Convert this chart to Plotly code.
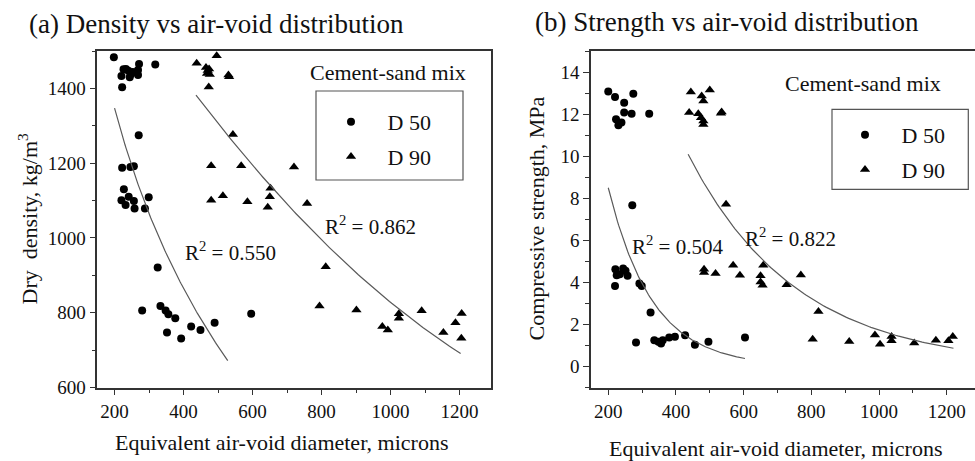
import numpy as np
import plotly.graph_objects as go

# ---------------- data ----------------
# (a) dry density, kg/m3, against equivalent air-void diameter, microns
dens_d50_x = [198, 220, 226, 222, 233, 240, 247, 244, 253, 268, 268, 271, 318,
              270, 222, 246, 256, 227, 220, 241, 256, 232, 258, 288, 299,
              325, 280, 333, 348, 356, 376, 352, 393, 422, 449, 490, 596]
dens_d50_y = [1483, 1433, 1451, 1403, 1452, 1447, 1438, 1430, 1444, 1449, 1436, 1465, 1464,
              1275, 1188, 1190, 1192, 1130, 1101, 1110, 1099, 1088, 1079, 1079, 1109,
              921, 806, 818, 806, 796, 785, 747, 731, 763, 754, 773, 797]
dens_d90_x = [438, 496, 465, 470, 474, 468, 476, 473, 530, 532, 543, 480, 567, 720,
              480, 514, 585, 652, 650, 644, 758, 812, 794, 901, 976, 992, 1024, 1024,
              1090, 1153, 1188, 1206, 1205]
dens_d90_y = [1467, 1487, 1456, 1448, 1452, 1440, 1437, 1404, 1436, 1431, 1277, 1193, 1193, 1190,
              1101, 1113, 1097, 1133, 1110, 1082, 1092, 923, 818, 807, 763, 754, 797, 785,
              805, 747, 773, 798, 732]

# (b) compressive strength, MPa, against equivalent air-void diameter, microns
str_d50_x = [200, 220, 247, 274, 223, 230, 239, 247, 269, 321, 271,
             221, 225, 234, 244, 251, 257, 220, 292, 299, 325,
             282, 336, 348, 356, 361, 380, 397, 427, 456, 496, 604]
str_d50_y = [13.08, 12.81, 12.54, 12.97, 11.75, 11.47, 11.60, 12.07, 12.02, 12.02, 7.67,
             4.62, 4.34, 4.39, 4.66, 4.55, 4.31, 3.83, 3.94, 3.83, 2.57,
             1.14, 1.25, 1.17, 1.09, 1.25, 1.38, 1.41, 1.49, 1.03, 1.17, 1.38]
str_d90_x = [444, 500, 476, 481, 439, 466, 474, 481, 481, 535, 533, 548,
             483, 483, 517, 569, 589, 658, 650, 650, 656, 727, 769, 821,
             804, 912, 988, 1003, 1037, 1037, 1104, 1168, 1205, 1218]
str_d90_y = [13.05, 13.15, 12.86, 12.62, 12.07, 12.02, 11.83, 11.67, 11.51, 12.10, 12.04, 7.71,
             4.62, 4.47, 4.42, 4.81, 4.34, 4.81, 4.31, 4.02, 3.86, 3.88, 4.35, 2.61,
             1.30, 1.19, 1.50, 1.06, 1.43, 1.22, 1.11, 1.25, 1.22, 1.43]

# trend-line fits and the diameter span each one covers
dens_d50_fit = (5035.0, -696.0)                 # y = a + b*ln(x)
dens_d50_span = (200, 528)
dens_d90_fit = (1986.6, -1.5628, 0.0004038)     # y = a + b*x + c*x^2
dens_d90_span = (436, 1203)
str_d50_fit = (39.56, -0.00769)                 # y = a*exp(b*x)
str_d50_span = (200, 604)
str_d90_fit = (39.5, -0.00313)                  # y = a*exp(b*x)
str_d90_span = (436, 1220)

r2_dens = ["0.550", "0.862"]
r2_str = ["0.504", "0.822"]

x_ticks = [200, 400, 600, 800, 1000, 1200]
dens_ticks = [600, 800, 1000, 1200, 1400]
str_ticks = [0, 2, 4, 6, 8, 10, 12, 14]

# ---------------- style ----------------
FONT = "Liberation Serif, Times New Roman, serif"
W, H = 975, 461
AXIS_COL = "#333333"
FIT_COL = "#5a5a5a"


def px(x):
    return x / W


def py(y):
    return 1 - y / H


def log_curve(fit, span):
    xs = np.linspace(span[0], span[1], 120)
    return xs, fit[0] + fit[1] * np.log(xs)


def quad_curve(fit, span):
    xs = np.linspace(span[0], span[1], 120)
    return xs, fit[0] + fit[1] * xs + fit[2] * xs ** 2


def exp_curve(fit, span):
    xs = np.linspace(span[0], span[1], 120)
    return xs, fit[0] * np.exp(fit[1] * xs)


fig = go.Figure()

circle = dict(symbol="circle", size=8, color="black")
tri = dict(symbol="triangle-up", size=9, color="black")

# panel (a)
fig.add_trace(go.Scatter(x=dens_d50_x, y=dens_d50_y, mode="markers", marker=circle,
                         name="D 50", legend="legend", legendgroup="a50",
                         xaxis="x", yaxis="y"))
fig.add_trace(go.Scatter(x=dens_d90_x, y=dens_d90_y, mode="markers", marker=tri,
                         name="D 90", legend="legend", legendgroup="a90",
                         xaxis="x", yaxis="y"))
for cx, cy in (log_curve(dens_d50_fit, dens_d50_span), quad_curve(dens_d90_fit, dens_d90_span)):
    fig.add_trace(go.Scatter(x=cx, y=cy, mode="lines", line=dict(color=FIT_COL, width=1.2),
                             showlegend=False, xaxis="x", yaxis="y", hoverinfo="skip"))

# panel (b)
fig.add_trace(go.Scatter(x=str_d50_x, y=str_d50_y, mode="markers", marker=circle,
                         name="D 50", legend="legend2", legendgroup="b50",
                         xaxis="x2", yaxis="y2"))
fig.add_trace(go.Scatter(x=str_d90_x, y=str_d90_y, mode="markers", marker=tri,
                         name="D 90", legend="legend2", legendgroup="b90",
                         xaxis="x2", yaxis="y2"))
for cx, cy in (exp_curve(str_d50_fit, str_d50_span), exp_curve(str_d90_fit, str_d90_span)):
    fig.add_trace(go.Scatter(x=cx, y=cy, mode="lines", line=dict(color=FIT_COL, width=1.2),
                             showlegend=False, xaxis="x2", yaxis="y2", hoverinfo="skip"))

Y_DOM = [py(387.5), py(51)]
axis_common = dict(showline=True, linecolor=AXIS_COL, linewidth=1.5, showgrid=False,
                   zeroline=False, ticks="outside", ticklen=6, tickwidth=1.3,
                   tickcolor=AXIS_COL, automargin=False,
                   tickfont=dict(family=FONT, size=19, color="#111"))

legend_common = dict(font=dict(family=FONT, size=22, color="#111"), bgcolor="rgba(0,0,0,0)",
                     borderwidth=0, itemwidth=63, tracegroupgap=3,
                     xanchor="left", yanchor="top", itemclick=False, itemdoubleclick=False)

x_minor = dict(ticks="outside", ticklen=4, dtick=100, tick0=0, tickcolor=AXIS_COL)

fig.update_layout(
    width=W, height=H, autosize=False,
    margin=dict(l=0, r=0, t=0, b=0, pad=0, autoexpand=False),
    paper_bgcolor="white", plot_bgcolor="white",
    font=dict(family=FONT, color="#111"),
    xaxis=dict(domain=[px(97.3), px(491)], range=[150, 1291], anchor="y", tickvals=x_ticks,
               mirror=True, minor=x_minor, **axis_common),
    yaxis=dict(domain=Y_DOM, range=[600, 1500], anchor="x", tickvals=dens_ticks,
               mirror=True, minor=dict(ticks="outside", ticklen=4, dtick=100, tick0=0,
                                       tickcolor=AXIS_COL), **axis_common),
    xaxis2=dict(domain=[px(591), 1.0], range=[149, 1283.6], anchor="y2", tickvals=x_ticks,
                mirror=True, minor=x_minor, **axis_common),
    yaxis2=dict(domain=Y_DOM, range=[-1, 15], anchor="x2", tickvals=str_ticks,
                mirror=False, minor=dict(ticks="outside", ticklen=4, dtick=1, tick0=0,
                                         tickcolor=AXIS_COL), **axis_common),
    legend=dict(x=px(314.5), y=py(101), **legend_common),
    legend2=dict(x=px(828.5), y=py(114), **legend_common),
    showlegend=True,
)

# legend frames
for x0, x1, y0, y1 in ((316, 463, 91, 180), (832, 968.3, 109.3, 189.3)):
    fig.add_shape(type="rect", xref="paper", yref="paper",
                  x0=px(x0), x1=px(x1), y0=py(y1), y1=py(y0),
                  line=dict(color="#555", width=1.2), fillcolor="rgba(0,0,0,0)")


def note(text, x, y, size, xanchor="left", yanchor="middle", angle=0):
    fig.add_annotation(text=text, xref="paper", yref="paper", x=px(x), y=py(y),
                       xanchor=xanchor, yanchor=yanchor, showarrow=False, textangle=angle,
                       font=dict(family=FONT, size=size, color="#111"))


# panel titles
note("(a) Density vs air-void distribution", 27, 24, 27)
note("(b) Strength vs air-void distribution", 533, 22, 27)

# axis titles
note("Equivalent air-void diameter, microns", 281.5, 442, 22, xanchor="center")
note("Equivalent air-void diameter, microns", 775.5, 448, 22, xanchor="center")
note("Dry\u00a0 density, kg/m<sup>3</sup>", 27, 218.5, 22, xanchor="center", angle=-90)
note("Compressive strength, MPa", 536, 218.5, 22, xanchor="center", angle=-90)

# legend headings
note("Cement-sand mix", 308, 72, 22)
note("Cement-sand mix", 783, 83, 22)

# goodness-of-fit labels
note("R<sup>2</sup> = " + r2_dens[0], 183, 251, 21)
note("R<sup>2</sup> = " + r2_dens[1], 323, 226, 21)
note("R<sup>2</sup> = " + r2_str[0], 630, 245, 21)
note("R<sup>2</sup> = " + r2_str[1], 743, 237, 21)

fig.write_html("out.html", config={"responsive": False, "displayModeBar": False})
